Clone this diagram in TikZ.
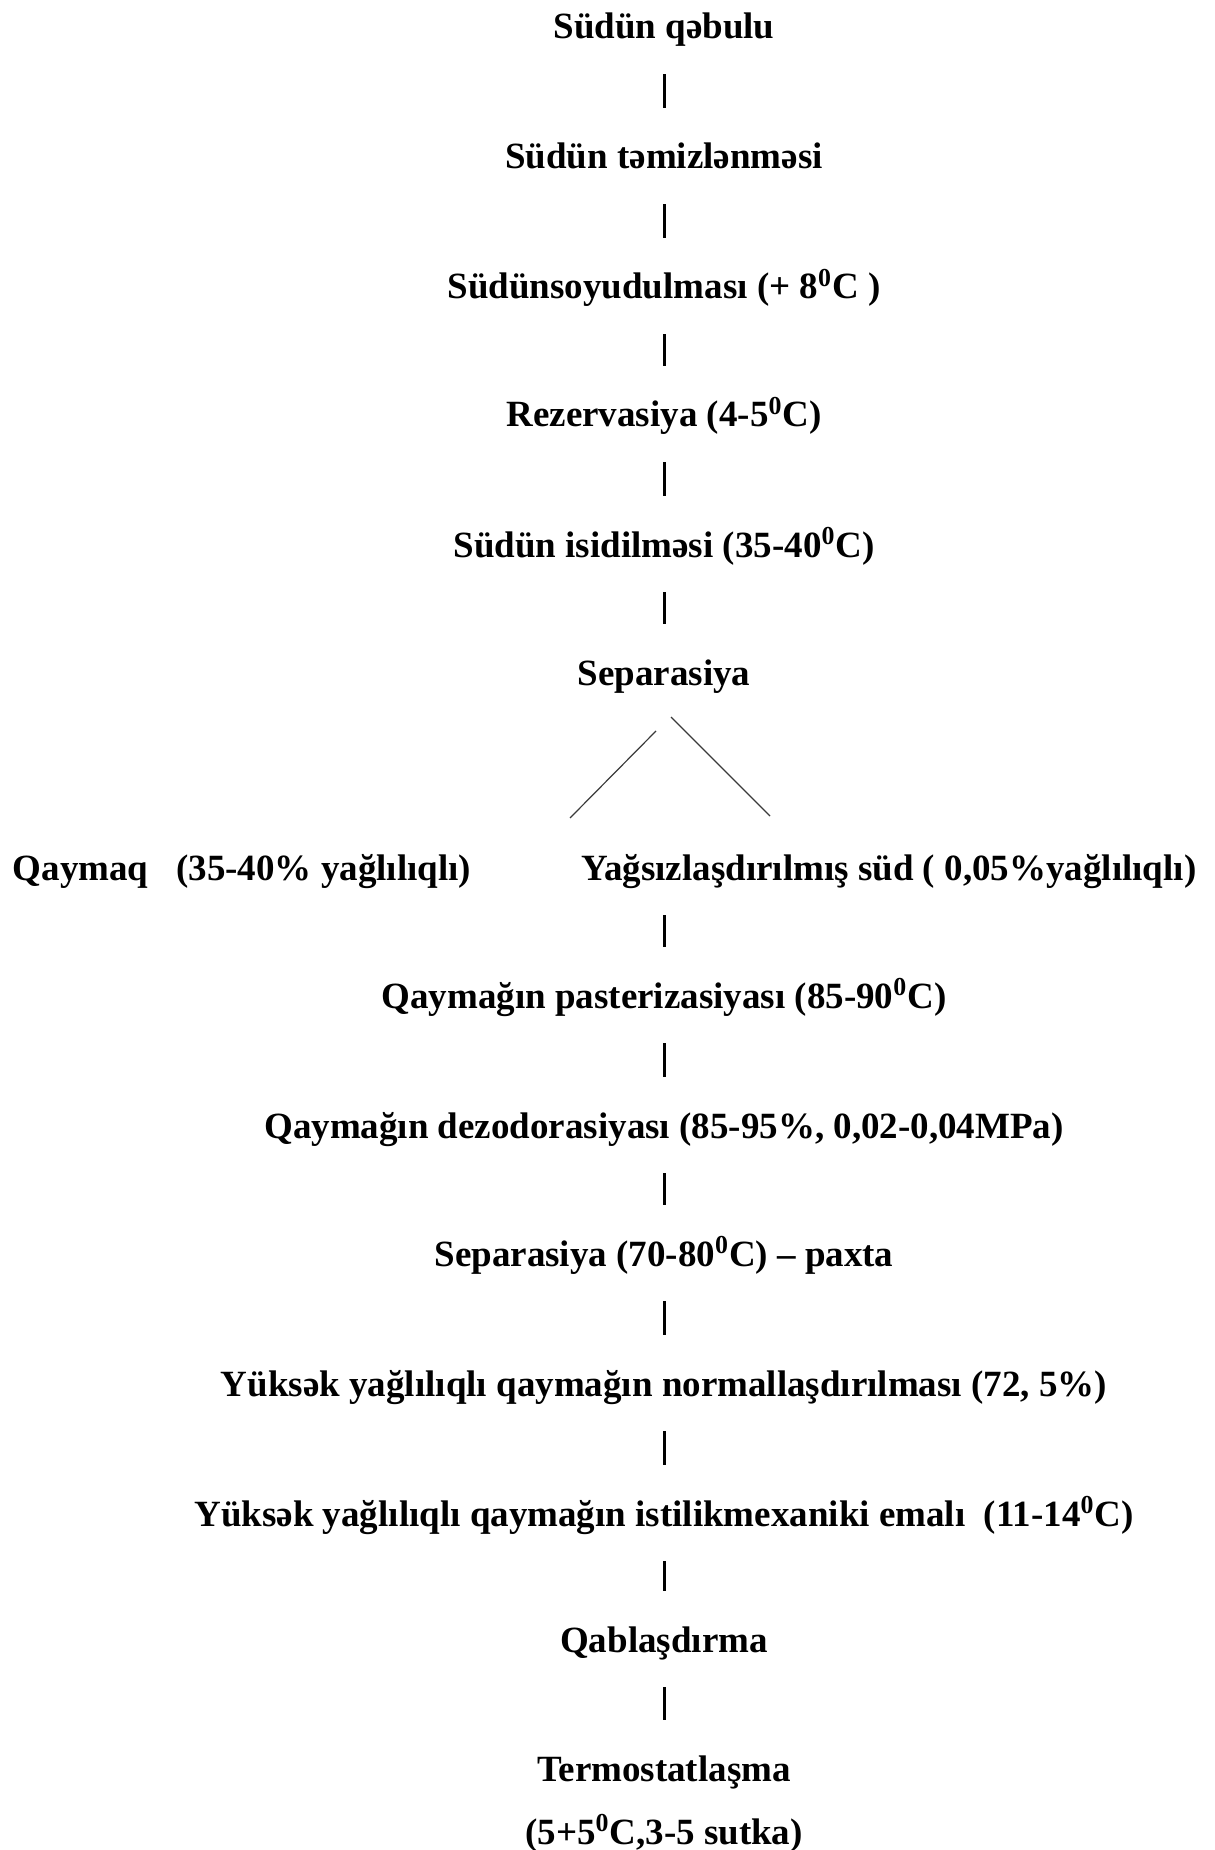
\documentclass[tikz,border=0pt]{standalone}
\usepackage{fontspec}
\setmainfont{Liberation Serif}
\usepackage{xcolor}
\definecolor{flowink}{HTML}{000000}
\definecolor{splitink}{HTML}{3A3A3A}
\newcommand{\dg}{\textsuperscript{0}}

\begin{document}
\begin{tikzpicture}[x=0.5pt,y=-0.5pt,
  point/.style={coordinate},
  stage/.style={inner sep=0pt, text height=16pt, text depth=3pt, text=flowink,
    font=\bfseries\fontsize{18.5pt}{22pt}\selectfont},
  bar/.style={draw=flowink, line width=1.5pt, shorten >=14.5pt, shorten <=14.5pt},
  split/.style={draw=splitink, line width=0.6pt}]
\useasboundingbox (0,0) rectangle (1214,1850);
\node[stage] (1)  at (664,26)   {Südün qəbulu};
\node[stage] (2)  at (664,156)  {Südün təmizlənməsi};
\node[stage] (3)  at (664,286)  {Südünsoyudulması (+ 8\dg C )};
\node[stage] (4)  at (664,414)  {Rezervasiya (4-5\dg C)};
\node[stage] (5)  at (664,544)  {Südün isidilməsi (35-40\dg C)};
\node[stage] (6)  at (664,672)  {Separasiya};
\node[stage] (7)  at (242,867)  {Qaymaq\ \ \ (35-40\% yağlılıqlı)};
\node[stage] (8)  at (889,867)  {Yağsızlaşdırılmış süd ( 0,05\%yağlılıqlı)};
\node[stage] (9)  at (664,995)  {Qaymağın pasterizasiyası (85-90\dg C)};
\node[stage] (10) at (664,1125) {Qaymağın dezodorasiyası (85-95\%, 0,02-0,04MPa)};
\node[stage] (11) at (664,1253) {Separasiya (70-80\dg C) -- paxta};
\node[stage] (12) at (664,1383) {Yüksək yağlılıqlı qaymağın normallaşdırılması (72, 5\%)};
\node[stage] (13) at (664,1513) {Yüksək yağlılıqlı qaymağın istilikmexaniki emalı\ \ (11-14\dg C)};
\node[stage] (14) at (664,1639) {Qablaşdırma};
\node[stage] (15) at (664,1768) {Termostatlaşma};
\node[stage] (16) at (664,1831) {(5+5\dg C,3-5 sutka)};
\node[point] (6l) at (656,731)  {};
\node[point] (7t) at (570,818)  {};
\node[point] (6r) at (671,717)  {};
\node[point] (8t) at (770,816)  {};
\draw[bar]   (1) -- (2);
\draw[bar]   (2) -- (3);
\draw[bar]   (3) -- (4);
\draw[bar]   (4) -- (5);
\draw[bar]   (5) -- (6);
\draw[split] (6l) -- (7t);
\draw[split] (6r) -- (8t);
\draw[bar]   (9 |- 8.south) -- (9);
\draw[bar]   (9) -- (10);
\draw[bar]   (10) -- (11);
\draw[bar]   (11) -- (12);
\draw[bar]   (12) -- (13);
\draw[bar]   (13) -- (14);
\draw[bar]   (14) -- (15);
\end{tikzpicture}
\end{document}
